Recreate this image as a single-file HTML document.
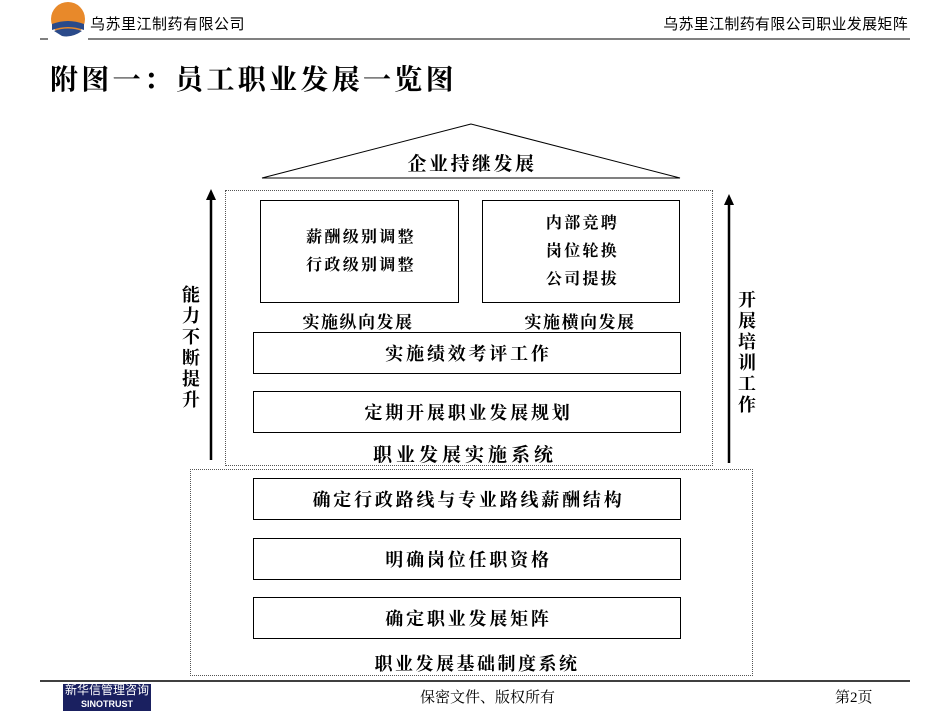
<!DOCTYPE html>
<html><head><meta charset="utf-8"><style>
body{margin:0;width:950px;height:713px;position:relative;background:#fff;font-family:"Liberation Serif","Noto Serif CJK SC",serif;overflow:hidden}
.a{position:absolute}
.b{position:absolute;border:1px solid #000;box-sizing:border-box;display:flex;align-items:center;justify-content:center;font-weight:bold;font-size:18px;letter-spacing:2.8px;padding-left:3px}
.t{position:absolute;font-weight:bold;font-size:17px;white-space:nowrap;transform:translateX(-50%);letter-spacing:2.5px}
.d{position:absolute;border:1px dotted #555;box-sizing:border-box}
.v{position:absolute;font-weight:bold;font-size:18px;width:20px;line-height:21px;text-align:center}
</style></head><body>
<svg class="a" style="left:0;top:0" width="950" height="713">
<circle cx="68" cy="19" r="17" fill="#e8892a"/>
<path d="M52 24 Q68 18 84 24 L84 30 Q68 24 52 30Z" fill="#2a4a8a"/>
<path d="M54 31 Q68 26 82 31 Q72 38 62 36Z" fill="#2a4a8a"/>
<line x1="40" y1="39" x2="48" y2="39" stroke="#000"/>
<line x1="88" y1="39" x2="910" y2="39" stroke="#000"/>
<polygon points="471,124 262,178 680,178" fill="none" stroke="#000"/>
<line x1="211" y1="460" x2="211" y2="198" stroke="#000" stroke-width="2.5"/>
<polygon points="206,200 211,189 216,200" fill="#000"/>
<line x1="729" y1="463" x2="729" y2="203" stroke="#000" stroke-width="2.5"/>
<polygon points="724,205 729,194 734,205" fill="#000"/>
<line x1="40" y1="681" x2="910" y2="681" stroke="#000" stroke-width="1.5"/>
</svg>
<div class="a" style="left:90px;top:13px;font-size:15px;letter-spacing:0.5px;font-family:'Liberation Sans','Noto Sans CJK SC',sans-serif">乌苏里江制药有限公司</div>
<div class="a" style="right:42px;top:13px;font-size:15px;letter-spacing:0.3px;font-family:'Liberation Sans','Noto Sans CJK SC',sans-serif">乌苏里江制药有限公司职业发展矩阵</div>
<div class="a" style="left:50px;top:58px;font-size:28px;font-weight:bold;letter-spacing:3.3px">附图一：员工职业发展一览图</div>
<div class="t" style="left:472px;top:149px;font-size:19px">企业持继发展</div>
<div class="d" style="left:225px;top:190px;width:488px;height:276px"></div>
<div class="d" style="left:190px;top:469px;width:563px;height:207px"></div>
<div class="b" style="left:260px;top:200px;width:199px;height:103px;font-size:16px;line-height:28px;text-align:center;letter-spacing:2.3px">薪酬级别调整<br>行政级别调整</div>
<div class="b" style="left:482px;top:200px;width:198px;height:103px;font-size:16px;line-height:28px;text-align:center;letter-spacing:2.3px">内部竞聘<br>岗位轮换<br>公司提拔</div>
<div class="t" style="left:358px;top:308px;letter-spacing:1.5px">实施纵向发展</div>
<div class="t" style="left:580px;top:308px;letter-spacing:1.5px">实施横向发展</div>
<div class="b" style="left:253px;top:332px;width:428px;height:42px">实施绩效考评工作</div>
<div class="b" style="left:253px;top:391px;width:428px;height:42px">定期开展职业发展规划</div>
<div class="t" style="left:465px;top:440px;font-size:19px;letter-spacing:4px">职业发展实施系统</div>
<div class="b" style="left:253px;top:478px;width:428px;height:42px">确定行政路线与专业路线薪酬结构</div>
<div class="b" style="left:253px;top:538px;width:428px;height:42px">明确岗位任职资格</div>
<div class="b" style="left:253px;top:597px;width:428px;height:42px">确定职业发展矩阵</div>
<div class="t" style="left:477px;top:650px;font-size:18px;letter-spacing:2.5px">职业发展基础制度系统</div>
<div class="v" style="left:181px;top:285px">能力不断提升</div>
<div class="v" style="left:737px;top:290px">开展培训工作</div>
<div class="a" style="left:63px;top:684px;width:88px;height:27px;background:#1a2060;color:#fff;font-size:12px;text-align:center;line-height:13px;font-family:'Liberation Sans','Noto Sans CJK SC',sans-serif">新华信管理咨询<br><span style="font-size:9px;font-weight:bold">SINOTRUST</span></div>
<div class="a" style="left:420px;top:686px;font-size:15px">保密文件、版权所有</div>
<div class="a" style="left:835px;top:686px;font-size:15px">第2页</div>
</body></html>
